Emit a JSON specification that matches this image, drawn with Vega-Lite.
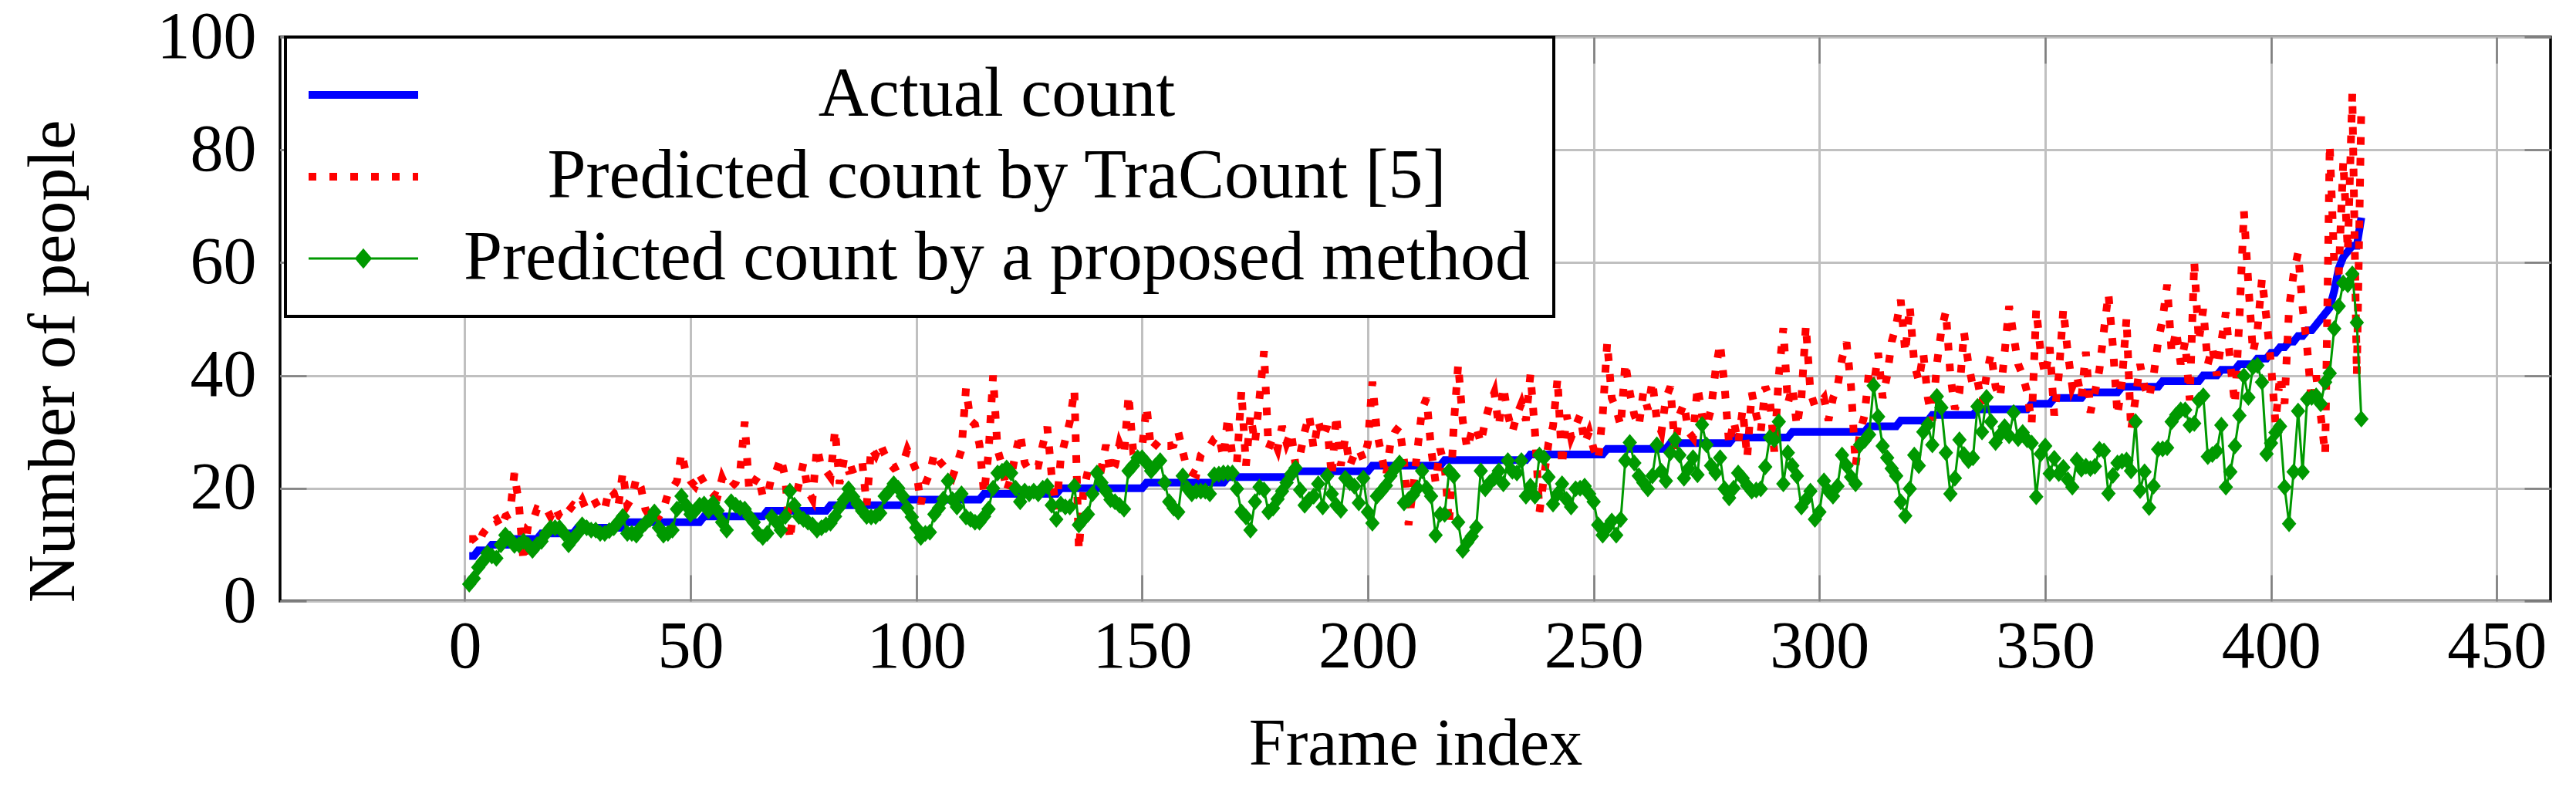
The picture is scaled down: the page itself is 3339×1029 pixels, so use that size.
{
  "$schema": "https://vega.github.io/schema/vega-lite/v6.json",
  "width": 2943,
  "height": 731,
  "autosize": {"type": "none"},
  "padding": {"left": 363, "top": 48, "right": 33, "bottom": 250},
  "background": "white",
  "config": {
    "font": "Liberation Serif",
    "view": {"stroke": "black", "strokeWidth": 3.5},
    "axis": {
      "labelFont": "Liberation Serif",
      "titleFont": "Liberation Serif",
      "labelFontSize": 86,
      "titleFontSize": 86,
      "labelColor": "black",
      "titleColor": "black",
      "titleFontWeight": "normal",
      "domain": false,
      "gridColor": "#c0c0c0",
      "gridWidth": 3,
      "gridOpacity": 1,
      "tickColor": "#7f7f7f",
      "tickWidth": 2.5,
      "tickSize": -34,
      "labelFlush": false,
      "labelOverlap": false
    },
    "legend": {"strokeWidth": 4}
  },
  "data": {
    "values": [
      {"f":1,"a":8,"t":11,"p":3},{"f":2,"a":8,"t":11,"p":4},{"f":3,"a":9,"t":10,"p":6},{"f":4,"a":9,"t":12,"p":7},{"f":5,"a":9,"t":13,"p":8.5},
      {"f":6,"a":10,"t":14,"p":8},{"f":7,"a":10,"t":14.5,"p":7.6},{"f":8,"a":10,"t":13,"p":10},{"f":9,"a":10,"t":15,"p":11.7},{"f":10,"a":10,"t":15.4,"p":11},
      {"f":11,"a":11,"t":22.7,"p":9.9},{"f":12,"a":11,"t":17.2,"p":10},{"f":13,"a":11,"t":7,"p":10.6},{"f":14,"a":11,"t":13.3,"p":10},{"f":15,"a":11,"t":14,"p":9},
      {"f":16,"a":11,"t":16.3,"p":10},{"f":17,"a":12,"t":16,"p":10.6},{"f":18,"a":12,"t":16.5,"p":12},{"f":19,"a":12,"t":15,"p":13},{"f":20,"a":12,"t":16.7,"p":13},
      {"f":21,"a":12,"t":15,"p":13},{"f":22,"a":12,"t":14.5,"p":12},{"f":23,"a":12,"t":16,"p":10},{"f":24,"a":12,"t":17,"p":11},{"f":25,"a":13,"t":16.5,"p":12},
      {"f":26,"a":13,"t":17.9,"p":13.5},{"f":27,"a":13,"t":16,"p":13},{"f":28,"a":13,"t":17,"p":12.6},{"f":29,"a":13,"t":17.4,"p":12.6},{"f":30,"a":13,"t":16,"p":12},
      {"f":31,"a":13,"t":16.3,"p":12},{"f":32,"a":13,"t":19.9,"p":12.5},{"f":33,"a":13,"t":19.2,"p":13},{"f":34,"a":13,"t":16.7,"p":14},{"f":35,"a":13,"t":22.9,"p":15},
      {"f":36,"a":14,"t":17,"p":12},{"f":37,"a":14,"t":18.3,"p":12},{"f":38,"a":14,"t":21.8,"p":11.7},{"f":39,"a":14,"t":20.2,"p":13},{"f":40,"a":14,"t":16.3,"p":13.8},
      {"f":41,"a":14,"t":15,"p":14.5},{"f":42,"a":14,"t":13.8,"p":15.8},{"f":43,"a":14,"t":15,"p":13},{"f":44,"a":14,"t":16.3,"p":11.7},{"f":45,"a":14,"t":19,"p":12},
      {"f":46,"a":14,"t":20,"p":12.6},{"f":47,"a":14,"t":21.3,"p":16.3},{"f":48,"a":14,"t":26.3,"p":18.6},{"f":49,"a":14,"t":22.7,"p":17},{"f":50,"a":14,"t":21.3,"p":15.4},
      {"f":51,"a":14,"t":20.4,"p":16},{"f":52,"a":14,"t":22.4,"p":17},{"f":53,"a":15,"t":21,"p":17.2},{"f":54,"a":15,"t":19.7,"p":16},{"f":55,"a":15,"t":19,"p":17.4},
      {"f":56,"a":15,"t":18.6,"p":16},{"f":57,"a":15,"t":21.8,"p":14},{"f":58,"a":15,"t":20,"p":12.6},{"f":59,"a":15,"t":20.2,"p":17.6},{"f":60,"a":15,"t":21,"p":17},
      {"f":61,"a":15,"t":23.1,"p":16.5},{"f":62,"a":15,"t":31.8,"p":16.3},{"f":63,"a":15,"t":19.5,"p":15},{"f":64,"a":15,"t":21,"p":14},{"f":65,"a":15,"t":22.2,"p":12},
      {"f":66,"a":15,"t":18.6,"p":11.3},{"f":67,"a":16,"t":18.6,"p":12},{"f":68,"a":16,"t":22.2,"p":14.9},{"f":69,"a":16,"t":23.1,"p":14},{"f":70,"a":16,"t":25.4,"p":12.6},
      {"f":71,"a":16,"t":21.8,"p":15},{"f":72,"a":16,"t":10.8,"p":19.5},{"f":73,"a":16,"t":17.4,"p":17},{"f":74,"a":16,"t":20.8,"p":15},{"f":75,"a":16,"t":24.5,"p":14.5},
      {"f":76,"a":16,"t":19.5,"p":14},{"f":77,"a":16,"t":18.1,"p":13.5},{"f":78,"a":16,"t":27.2,"p":12.6},{"f":79,"a":16,"t":23.6,"p":13},{"f":80,"a":16,"t":23.1,"p":13.5},
      {"f":81,"a":17,"t":22,"p":13.8},{"f":82,"a":17,"t":30.4,"p":15},{"f":83,"a":17,"t":20.8,"p":16.7},{"f":84,"a":17,"t":25.2,"p":18},{"f":85,"a":17,"t":23.1,"p":19.9},
      {"f":86,"a":17,"t":23.3,"p":18.5},{"f":87,"a":17,"t":23.6,"p":17.2},{"f":88,"a":17,"t":24.9,"p":16},{"f":89,"a":17,"t":17,"p":15},{"f":90,"a":17,"t":27.2,"p":14.9},
      {"f":91,"a":17,"t":25.9,"p":15},{"f":92,"a":17,"t":27.9,"p":15.6},{"f":93,"a":17,"t":26,"p":18.6},{"f":94,"a":17,"t":24.5,"p":19.5},{"f":95,"a":17,"t":23.6,"p":20.8},
      {"f":96,"a":17,"t":24,"p":20},{"f":97,"a":17,"t":24.3,"p":18.6},{"f":98,"a":18,"t":26.8,"p":16.5},{"f":99,"a":18,"t":25,"p":14.9},{"f":100,"a":18,"t":23.1,"p":13},
      {"f":101,"a":18,"t":17.2,"p":11.3},{"f":102,"a":18,"t":20.8,"p":12},{"f":103,"a":18,"t":22.7,"p":12.2},{"f":104,"a":18,"t":26.3,"p":15.4},{"f":105,"a":18,"t":24.9,"p":16.5},
      {"f":106,"a":18,"t":24,"p":18.1},{"f":107,"a":18,"t":23.1,"p":21.3},{"f":108,"a":18,"t":22,"p":18},{"f":109,"a":18,"t":24.3,"p":16.7},{"f":110,"a":18,"t":26.8,"p":19},
      {"f":111,"a":18,"t":37.7,"p":14.9},{"f":112,"a":18,"t":32,"p":14.5},{"f":113,"a":18,"t":31.3,"p":14},{"f":114,"a":18,"t":27.7,"p":14},{"f":115,"a":19,"t":19,"p":15},
      {"f":116,"a":19,"t":26.3,"p":16.3},{"f":117,"a":19,"t":40,"p":20},{"f":118,"a":19,"t":26.8,"p":22.7},{"f":119,"a":19,"t":24,"p":23},{"f":120,"a":19,"t":19.5,"p":23.6},
      {"f":121,"a":19,"t":22,"p":22.7},{"f":122,"a":19,"t":26.3,"p":20},{"f":123,"a":19,"t":29.7,"p":17.6},{"f":124,"a":19,"t":24.5,"p":19.5},{"f":125,"a":19,"t":23.1,"p":19},
      {"f":126,"a":19,"t":24,"p":19.5},{"f":127,"a":19,"t":24,"p":19},{"f":128,"a":19,"t":27.7,"p":20},{"f":129,"a":19,"t":30.9,"p":20.4},{"f":130,"a":19,"t":22,"p":17},
      {"f":131,"a":19,"t":16.3,"p":14.5},{"f":132,"a":20,"t":25.4,"p":17.2},{"f":133,"a":20,"t":28.6,"p":16.7},{"f":134,"a":20,"t":31.8,"p":16.7},{"f":135,"a":20,"t":37.5,"p":20.4},
      {"f":136,"a":20,"t":9,"p":13.5},{"f":137,"a":20,"t":19.5,"p":14.5},{"f":138,"a":20,"t":23.1,"p":15.4},{"f":139,"a":20,"t":23.6,"p":19},{"f":140,"a":20,"t":24,"p":22.7},
      {"f":141,"a":20,"t":23.6,"p":21},{"f":142,"a":20,"t":27.7,"p":19.5},{"f":143,"a":20,"t":22.7,"p":18},{"f":144,"a":20,"t":24,"p":17.6},{"f":145,"a":20,"t":27.9,"p":17},
      {"f":146,"a":20,"t":25.9,"p":16.3},{"f":147,"a":20,"t":36.6,"p":23.1},{"f":148,"a":20,"t":26.8,"p":24},{"f":149,"a":20,"t":27.2,"p":25.4},{"f":150,"a":20,"t":27.2,"p":25.4},
      {"f":151,"a":21,"t":34.5,"p":24.5},{"f":152,"a":21,"t":26.8,"p":23.1},{"f":153,"a":21,"t":27.7,"p":24},{"f":154,"a":21,"t":28.6,"p":24.9},{"f":155,"a":21,"t":27.5,"p":21},
      {"f":156,"a":21,"t":27.5,"p":17.6},{"f":157,"a":21,"t":27.7,"p":16.5},{"f":158,"a":21,"t":30,"p":15.8},{"f":159,"a":21,"t":26.5,"p":22.2},{"f":160,"a":21,"t":23.3,"p":20},
      {"f":161,"a":21,"t":22.8,"p":19},{"f":162,"a":21,"t":22.4,"p":19.5},{"f":163,"a":21,"t":25.9,"p":19.5},{"f":164,"a":21,"t":27,"p":19.5},{"f":165,"a":21,"t":27.5,"p":19},
      {"f":166,"a":21,"t":28.8,"p":22.4},{"f":167,"a":21,"t":29.3,"p":22.5},{"f":168,"a":21,"t":25.4,"p":22.7},{"f":169,"a":22,"t":32.7,"p":22.7},{"f":170,"a":22,"t":25.6,"p":22.7},
      {"f":171,"a":22,"t":24.5,"p":19.9},{"f":172,"a":22,"t":37.3,"p":15.8},{"f":173,"a":22,"t":24,"p":14.9},{"f":174,"a":22,"t":33,"p":12.6},{"f":175,"a":22,"t":28,"p":17.6},
      {"f":176,"a":22,"t":36,"p":20.2},{"f":177,"a":22,"t":44.3,"p":19.7},{"f":178,"a":22,"t":27,"p":15.8},{"f":179,"a":22,"t":29,"p":16.5},{"f":180,"a":22,"t":27,"p":18.1},
      {"f":181,"a":22,"t":31,"p":19.5},{"f":182,"a":22,"t":28,"p":21},{"f":183,"a":22,"t":30,"p":22.5},{"f":184,"a":23,"t":24,"p":23.6},{"f":185,"a":23,"t":26,"p":19.7},
      {"f":186,"a":23,"t":30,"p":17},{"f":187,"a":23,"t":33,"p":18},{"f":188,"a":23,"t":27,"p":18.6},{"f":189,"a":23,"t":32,"p":20.8},{"f":190,"a":23,"t":29,"p":16.7},
      {"f":191,"a":23,"t":31,"p":22.2},{"f":192,"a":23,"t":22,"p":19},{"f":193,"a":23,"t":33,"p":17},{"f":194,"a":23,"t":24,"p":16.1},{"f":195,"a":23,"t":29,"p":21.8},
      {"f":196,"a":23,"t":24,"p":21},{"f":197,"a":23,"t":26,"p":20.4},{"f":198,"a":23,"t":27,"p":17.4},{"f":199,"a":23,"t":25,"p":21.8},{"f":200,"a":23,"t":28,"p":15.8},
      {"f":201,"a":24,"t":38.9,"p":13.8},{"f":202,"a":24,"t":30,"p":18.6},{"f":203,"a":24,"t":26,"p":19.5},{"f":204,"a":24,"t":22,"p":20.5},{"f":205,"a":24,"t":28,"p":22.2},
      {"f":206,"a":24,"t":30,"p":23.5},{"f":207,"a":24,"t":31,"p":24.5},{"f":208,"a":24,"t":25,"p":17.4},{"f":209,"a":24,"t":13.5,"p":18},{"f":210,"a":24,"t":20,"p":18.8},
      {"f":211,"a":24,"t":27,"p":20},{"f":212,"a":24,"t":34,"p":23.1},{"f":213,"a":24,"t":36,"p":20},{"f":214,"a":24,"t":27,"p":18.6},{"f":215,"a":24,"t":21,"p":11.7},
      {"f":216,"a":24,"t":27,"p":15.4},{"f":217,"a":25,"t":24,"p":15.4},{"f":218,"a":25,"t":13.5,"p":23.1},{"f":219,"a":25,"t":31,"p":22.2},{"f":220,"a":25,"t":42,"p":14},
      {"f":221,"a":25,"t":32,"p":9},{"f":222,"a":25,"t":27,"p":10.4},{"f":223,"a":25,"t":30,"p":11.5},{"f":224,"a":25,"t":31,"p":13.1},{"f":225,"a":25,"t":28,"p":23.1},
      {"f":226,"a":25,"t":32,"p":19.9},{"f":227,"a":25,"t":35,"p":21},{"f":228,"a":25,"t":37,"p":21.8},{"f":229,"a":25,"t":31,"p":23.1},{"f":230,"a":25,"t":38,"p":20.8},
      {"f":231,"a":25,"t":33,"p":24.9},{"f":232,"a":25,"t":30,"p":23},{"f":233,"a":25,"t":33,"p":22.7},{"f":234,"a":25,"t":35,"p":24.9},{"f":235,"a":25,"t":32,"p":18.6},
      {"f":236,"a":26,"t":40.2,"p":20.4},{"f":237,"a":26,"t":30,"p":18.6},{"f":238,"a":26,"t":15.8,"p":25.9},{"f":239,"a":26,"t":22,"p":25.4},{"f":240,"a":26,"t":28,"p":22},
      {"f":241,"a":26,"t":31,"p":17.2},{"f":242,"a":26,"t":39.5,"p":19},{"f":243,"a":26,"t":24,"p":20.8},{"f":244,"a":26,"t":33,"p":18},{"f":245,"a":26,"t":29,"p":16.7},
      {"f":246,"a":26,"t":31,"p":19.9},{"f":247,"a":26,"t":33,"p":20},{"f":248,"a":26,"t":28,"p":20.4},{"f":249,"a":26,"t":30,"p":19},{"f":250,"a":26,"t":27,"p":17.6},
      {"f":251,"a":26,"t":25,"p":13.5},{"f":252,"a":26,"t":33,"p":11.7},{"f":253,"a":27,"t":45.9,"p":13},{"f":254,"a":27,"t":36,"p":14.2},{"f":255,"a":27,"t":34,"p":11.7},
      {"f":256,"a":27,"t":31,"p":14.5},{"f":257,"a":27,"t":42.3,"p":24.9},{"f":258,"a":27,"t":37,"p":28.1},{"f":259,"a":27,"t":33,"p":24.5},{"f":260,"a":27,"t":31,"p":22.2},
      {"f":261,"a":27,"t":37,"p":21},{"f":262,"a":27,"t":34,"p":19.9},{"f":263,"a":27,"t":39,"p":22.2},{"f":264,"a":27,"t":32,"p":27.7},{"f":265,"a":27,"t":30,"p":23},
      {"f":266,"a":27,"t":36,"p":21.3},{"f":267,"a":28,"t":38,"p":26.3},{"f":268,"a":28,"t":27,"p":28.6},{"f":269,"a":28,"t":33,"p":25.9},{"f":270,"a":28,"t":35,"p":21.8},
      {"f":271,"a":28,"t":30,"p":23.5},{"f":272,"a":28,"t":29,"p":25.4},{"f":273,"a":28,"t":38,"p":22.4},{"f":274,"a":28,"t":33,"p":31.3},{"f":275,"a":28,"t":31,"p":27.7},
      {"f":276,"a":28,"t":34,"p":24},{"f":277,"a":28,"t":41,"p":22.7},{"f":278,"a":28,"t":45.7,"p":25.4},{"f":279,"a":28,"t":38,"p":19.9},{"f":280,"a":28,"t":27.7,"p":18.3},
      {"f":281,"a":29,"t":32,"p":20},{"f":282,"a":29,"t":28,"p":22.7},{"f":283,"a":29,"t":34,"p":21.8},{"f":284,"a":29,"t":25.4,"p":20.5},{"f":285,"a":29,"t":37,"p":19.5},
      {"f":286,"a":29,"t":33,"p":19.7},{"f":287,"a":29,"t":30,"p":19.9},{"f":288,"a":29,"t":38,"p":23.8},{"f":289,"a":29,"t":36,"p":29},{"f":290,"a":29,"t":26.5,"p":28.6},
      {"f":291,"a":29,"t":40,"p":31.8},{"f":292,"a":29,"t":48.4,"p":20.8},{"f":293,"a":29,"t":35,"p":26.3},{"f":294,"a":30,"t":38,"p":24},{"f":295,"a":30,"t":31,"p":22.2},
      {"f":296,"a":30,"t":36,"p":16.7},{"f":297,"a":30,"t":48.9,"p":18},{"f":298,"a":30,"t":37,"p":19.5},{"f":299,"a":30,"t":34.5,"p":14.5},{"f":300,"a":30,"t":35,"p":15.8},
      {"f":301,"a":30,"t":36,"p":21.3},{"f":302,"a":30,"t":32,"p":19.5},{"f":303,"a":30,"t":36,"p":18.6},{"f":304,"a":30,"t":38,"p":20.4},{"f":305,"a":30,"t":43,"p":25.9},
      {"f":306,"a":30,"t":45.9,"p":24},{"f":307,"a":30,"t":38,"p":22},{"f":308,"a":30,"t":24,"p":20.8},{"f":309,"a":30,"t":30,"p":27.7},{"f":310,"a":30,"t":33,"p":28.5},
      {"f":311,"a":31,"t":41,"p":29.5},{"f":312,"a":31,"t":38,"p":38.2},{"f":313,"a":31,"t":44,"p":32.7},{"f":314,"a":31,"t":36,"p":27.5},{"f":315,"a":31,"t":40,"p":25.4},
      {"f":316,"a":31,"t":46,"p":23.5},{"f":317,"a":31,"t":49,"p":22.2},{"f":318,"a":32,"t":53.4,"p":17.6},{"f":319,"a":32,"t":44,"p":15.1},{"f":320,"a":32,"t":52.3,"p":19.9},
      {"f":321,"a":32,"t":42,"p":25.9},{"f":322,"a":32,"t":39,"p":24},{"f":323,"a":32,"t":44,"p":30},{"f":324,"a":32,"t":36,"p":31.3},{"f":325,"a":33,"t":32,"p":27.7},
      {"f":326,"a":33,"t":42,"p":36.3},{"f":327,"a":33,"t":48,"p":34.3},{"f":328,"a":33,"t":51.4,"p":26.3},{"f":329,"a":33,"t":40,"p":19},{"f":330,"a":33,"t":34,"p":21.8},
      {"f":331,"a":33,"t":37,"p":28.6},{"f":332,"a":33,"t":47.7,"p":26},{"f":333,"a":33,"t":42,"p":24.9},{"f":334,"a":33,"t":38,"p":25.4},{"f":335,"a":34,"t":39,"p":34.5},
      {"f":336,"a":34,"t":35,"p":30},{"f":337,"a":34,"t":40,"p":36.1},{"f":338,"a":34,"t":44,"p":31.8},{"f":339,"a":34,"t":38,"p":28.1},{"f":340,"a":34,"t":36,"p":29.5},
      {"f":341,"a":34,"t":44,"p":30.9},{"f":342,"a":34,"t":52.3,"p":29.3},{"f":343,"a":34,"t":47,"p":33.4},{"f":344,"a":34,"t":42,"p":28.8},{"f":345,"a":34,"t":40,"p":29.9},
      {"f":346,"a":34,"t":37,"p":28.6},{"f":347,"a":35,"t":31.5,"p":28},{"f":348,"a":35,"t":51.8,"p":18.5},{"f":349,"a":35,"t":44,"p":26.1},{"f":350,"a":35,"t":40,"p":27.5},
      {"f":351,"a":35,"t":45,"p":22.6},{"f":352,"a":36,"t":32.9,"p":25.3},{"f":353,"a":36,"t":40,"p":22.6},{"f":354,"a":36,"t":51.8,"p":23.7},{"f":355,"a":36,"t":44,"p":21.5},
      {"f":356,"a":36,"t":38,"p":20.2},{"f":357,"a":36,"t":40,"p":25},{"f":358,"a":36,"t":36,"p":23.4},{"f":359,"a":37,"t":44.2,"p":23.9},{"f":360,"a":37,"t":33.4,"p":23.5},
      {"f":361,"a":37,"t":37,"p":23.9},{"f":362,"a":37,"t":41,"p":26.9},{"f":363,"a":37,"t":48,"p":26.6},{"f":364,"a":37,"t":54.5,"p":19.1},{"f":365,"a":37,"t":45,"p":22.3},
      {"f":366,"a":37,"t":32.9,"p":24.5},{"f":367,"a":38,"t":39,"p":24.8},{"f":368,"a":38,"t":50.2,"p":25},{"f":369,"a":38,"t":30.2,"p":23.1},{"f":370,"a":38,"t":36,"p":31.8},
      {"f":371,"a":38,"t":42,"p":19.6},{"f":372,"a":38,"t":38,"p":22.9},{"f":373,"a":38,"t":36,"p":16.6},{"f":374,"a":38,"t":40,"p":20.4},{"f":375,"a":38,"t":46,"p":26.9},
      {"f":376,"a":39,"t":50,"p":27},{"f":377,"a":39,"t":56.1,"p":27.2},{"f":378,"a":39,"t":44,"p":31.8},{"f":379,"a":39,"t":48,"p":33},{"f":380,"a":39,"t":42,"p":33.9},
      {"f":381,"a":39,"t":46,"p":33.9},{"f":382,"a":39,"t":35.6,"p":31.2},{"f":383,"a":39,"t":60.2,"p":31.5},{"f":384,"a":39,"t":46,"p":35.6},{"f":385,"a":40,"t":51.8,"p":36.4},
      {"f":386,"a":40,"t":42,"p":25.6},{"f":387,"a":40,"t":45,"p":26},{"f":388,"a":40,"t":40,"p":26.6},{"f":389,"a":41,"t":46,"p":31.2},{"f":390,"a":41,"t":51.2,"p":20.2},
      {"f":391,"a":41,"t":42,"p":22.9},{"f":392,"a":41,"t":34.8,"p":27.5},{"f":393,"a":42,"t":50,"p":32.9},{"f":394,"a":42,"t":69.1,"p":39.9},{"f":395,"a":42,"t":56,"p":36.1},
      {"f":396,"a":42,"t":44,"p":41.5},{"f":397,"a":43,"t":48,"p":41.8},{"f":398,"a":43,"t":57.2,"p":38.8},{"f":399,"a":43,"t":50,"p":26.1},{"f":400,"a":44,"t":42,"p":28},
      {"f":401,"a":44,"t":31.5,"p":29.9},{"f":402,"a":45,"t":40,"p":31},{"f":403,"a":45,"t":35,"p":20.2},{"f":404,"a":46,"t":52,"p":13.7},{"f":405,"a":46,"t":58,"p":22.9},
      {"f":406,"a":47,"t":61.8,"p":33.7},{"f":407,"a":47,"t":52,"p":22.9},{"f":408,"a":48,"t":45,"p":35.8},{"f":409,"a":48,"t":35,"p":36.1},{"f":410,"a":49,"t":40,"p":36.4},
      {"f":411,"a":50,"t":33,"p":35},{"f":412,"a":51,"t":26,"p":38.8},{"f":413,"a":52,"t":81,"p":40.4},{"f":414,"a":55,"t":60,"p":48.3},{"f":415,"a":59,"t":58,"p":52.3},
      {"f":416,"a":61,"t":78,"p":56.4},{"f":417,"a":62,"t":62,"p":56.1},{"f":418,"a":63,"t":90,"p":58},{"f":419,"a":63,"t":40,"p":49.4},{"f":420,"a":68,"t":88,"p":32.3}
    ]
  },
  "transform": [{"fold": ["a", "t", "p"], "as": ["key", "value"]}],
  "layer": [
    {
      "transform": [{"filter": "datum.key === 'a'"}],
      "mark": {"type": "line", "strokeWidth": 10, "strokeJoin": "miter"},
      "encoding": {
        "x": {
          "field": "f",
          "type": "quantitative",
          "scale": {"domain": [-40.9, 461.9], "nice": false, "zero": false},
          "axis": {
            "orient": "bottom",
            "values": [0, 50, 100, 150, 200, 250, 300, 350, 400, 450],
            "title": "Frame index",
            "grid": true,
            "labelPadding": 51,
            "titleX": 1471.5,
            "titleY": 211,
            "titleAlign": "center",
            "titleBaseline": "alphabetic"
          }
        },
        "y": {
          "field": "value",
          "type": "quantitative",
          "scale": {"domain": [0, 100], "nice": false},
          "axis": {
            "orient": "left",
            "values": [0, 20, 40, 60, 80, 100],
            "title": "Number of people",
            "grid": true,
            "labelPadding": 65,
            "titleX": -268,
            "titleY": 420,
            "titleAngle": 270,
            "titleAlign": "center",
            "titleBaseline": "alphabetic"
          }
        },
        "color": {
          "field": "key",
          "type": "nominal",
          "scale": {"domain": ["a", "t", "p"], "range": ["#0000ff", "#ff0000", "#009900"]},
          "legend": {
            "orient": "none",
            "legendX": 7,
            "legendY": 0,
            "direction": "vertical",
            "title": null,
            "labelExpr": "datum.value === 'a' ? 'Actual count' : datum.value === 't' ? 'Predicted count by TraCount [5]' : 'Predicted count by a proposed method'",
            "labelFont": "Liberation Serif",
            "labelFontSize": 90,
            "labelColor": "black",
            "labelLimit": 3000,
            "labelAlign": "center",
            "labelBaseline": "middle",
            "labelOffset": 776,
            "symbolType": {"expr": "datum.value === 'p' ? 'M-3,0H3M0,-0.46L0.39,0L0,0.46L-0.39,0Z' : 'M-3,0H3'"},
            "symbolFillColor": {"expr": "datum.value === 'p' ? '#009900' : 'transparent'"},
            "symbolStrokeWidth": {"expr": "datum.value === 'p' ? 3 : 10"},
            "symbolSize": 2240,
            "symbolOffset": 26,
            "rowPadding": 16,
            "padding": 30,
            "strokeColor": "black",
            "fillColor": "white"
          }
        },
        "strokeDash": {
          "field": "key",
          "type": "nominal",
          "scale": {"domain": ["a", "t", "p"], "range": [[1, 0], [10, 17], [1, 0]]}
        }
      }
    },
    {
      "transform": [{"filter": "datum.key === 't'"}],
      "mark": {"type": "line", "strokeWidth": 10, "strokeJoin": "miter", "strokeCap": "butt"},
      "encoding": {
        "x": {"field": "f", "type": "quantitative", "axis": null},
        "y": {"field": "value", "type": "quantitative", "axis": null},
        "color": {"field": "key", "type": "nominal"},
        "strokeDash": {"field": "key", "type": "nominal"}
      }
    },
    {
      "transform": [{"filter": "datum.key === 'p'"}],
      "mark": {"type": "line", "strokeWidth": 3, "strokeJoin": "miter"},
      "encoding": {
        "x": {"field": "f", "type": "quantitative", "axis": null},
        "y": {"field": "value", "type": "quantitative", "axis": null},
        "color": {"field": "key", "type": "nominal"},
        "strokeDash": {"field": "key", "type": "nominal"}
      }
    },
    {
      "transform": [{"filter": "datum.key === 'p'"}],
      "mark": {"type": "point", "filled": true, "shape": "M0,-1L0.85,0L0,1L-0.85,0Z", "size": 484, "opacity": 1, "strokeWidth": 0},
      "encoding": {
        "x": {
          "field": "f",
          "type": "quantitative",
          "axis": {"orient": "top", "values": [0, 50, 100, 150, 200, 250, 300, 350, 400, 450], "labels": false, "grid": false, "title": null}
        },
        "y": {
          "field": "value",
          "type": "quantitative",
          "axis": {"orient": "right", "values": [0, 20, 40, 60, 80, 100], "labels": false, "grid": false, "title": null}
        },
        "color": {"value": "#009900"}
      }
    }
  ],
  "resolve": {"axis": {"x": "independent", "y": "independent"}}
}
